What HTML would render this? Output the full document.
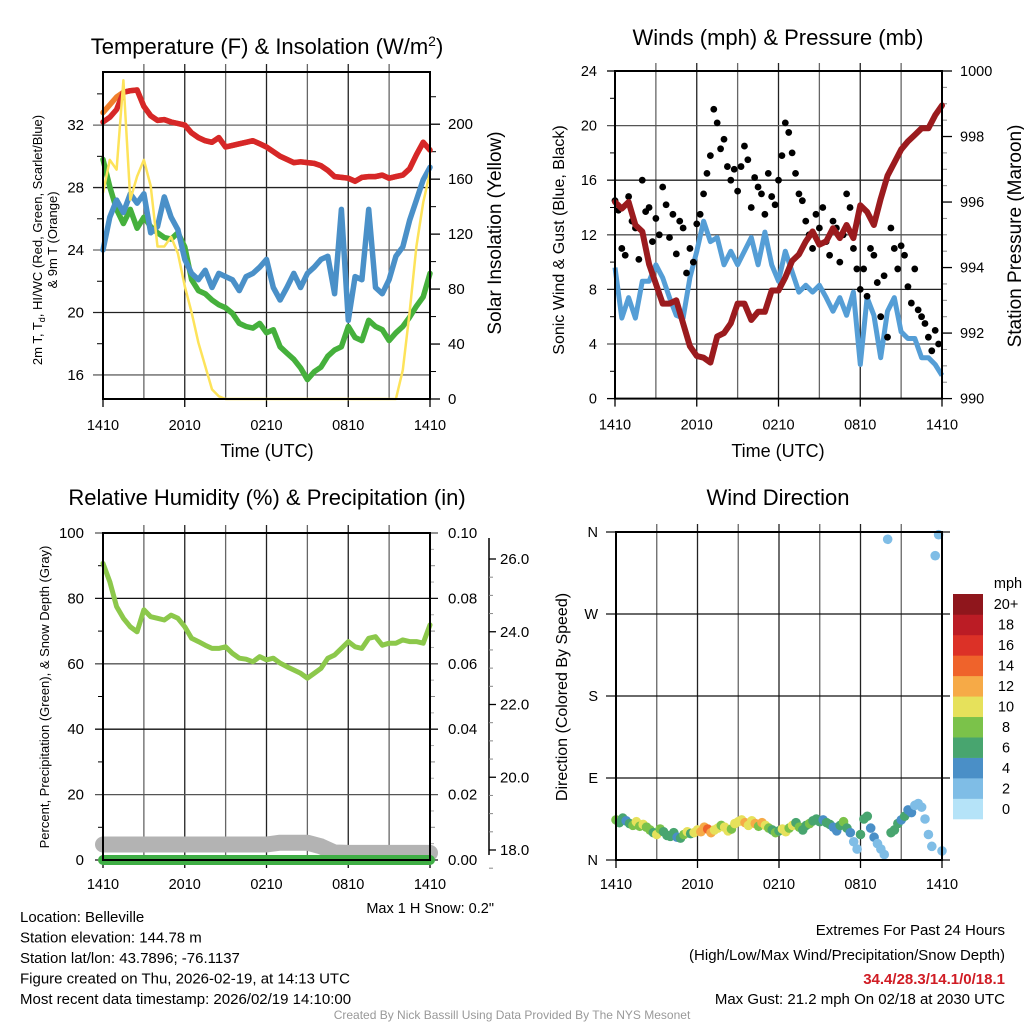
<!DOCTYPE html>
<html><head><meta charset="utf-8"><style>
body{margin:0;background:#fff;}
svg{display:block;font-family:"Liberation Sans",Arial,sans-serif;}
</style></head><body>
<svg id="c" width="1024" height="1024" viewBox="0 0 1024 1024" xmlns="http://www.w3.org/2000/svg"></svg>
<script>
// ---------- DATA (30-min steps over 24 h: index 0..48) ----------
const timeLabels = ["1410","2010","0210","0810","1410"];
const tempTicks = [16,20,24,28,32];
const insolTicks = [0,40,80,120,160,200];
const temp2m = [32.2,32.5,33.0,34.1,34.2,34.25,33.2,32.6,32.3,32.35,32.2,32.1,32.0,31.5,31.2,31.0,30.9,31.2,30.6,30.7,30.8,30.9,31.0,30.8,30.6,30.3,30.0,29.8,29.6,29.65,29.6,29.55,29.4,29.1,28.7,28.65,28.6,28.4,28.65,28.7,28.7,28.8,28.6,28.7,28.8,29.2,30.1,30.9,30.4];
const temp9m = [32.8,33.3,33.8,34.1,34.2,34.25,33.2,32.6,32.3,32.35,32.2,32.1,32.0,31.5,31.2,31.0,30.9,31.2,30.6,30.7,30.8,30.9,31.0,30.8,30.6,30.3,30.0,29.8,29.6,29.65,29.6,29.55,29.4,29.1,28.7,28.65,28.6,28.4,28.65,28.7,28.7,28.8,28.6,28.7,28.8,29.2,30.1,30.9,30.4];
const dewpoint = [29.8,28.05,26.6,25.7,26.6,25.4,26.1,25.5,25.1,24.8,24.7,25.1,24.2,22.1,21.4,21.2,20.8,20.5,20.3,19.95,19.3,19.1,19.0,19.3,18.7,18.9,17.8,17.4,17.0,16.45,15.7,16.2,16.5,17.2,17.6,17.8,19.1,18.4,18.2,19.5,19.1,18.9,18.2,18.7,19.1,19.7,20.4,21.0,22.5];
const windChill = [24.0,26.1,27.2,26.4,27.6,27.0,27.6,25.1,25.5,27.4,26.1,25.3,23.4,22.5,22.1,22.7,21.6,22.5,22.3,22.1,21.4,22.3,22.5,22.9,23.4,21.6,20.8,21.6,22.5,21.6,22.5,22.9,23.4,23.6,21.2,26.6,19.5,22.3,22.1,26.6,21.6,21.2,22.1,23.6,24.2,25.9,27.2,28.5,29.3];
const insolation = [150,174,167,232,145,162,174,155,111,111,118,106,82,63,41,24,7,2,0,0,0,0,0,0,0,0,0,0,0,0,0,0,0,0,0,0,0,0,0,0,0,0,0,0,21,63,111,143,165];

const windTicks = [0,4,8,12,16,20,24];
const presTicks = [990,992,994,996,998,1000];
const pressure = [996.0,995.8,996.0,995.3,995.1,994.1,993.5,992.9,992.9,993.0,992.3,991.6,991.3,991.25,991.1,991.9,992.0,992.3,992.9,992.9,992.4,992.65,992.65,993.3,993.3,993.7,994.2,994.4,994.8,995.1,994.7,994.8,995.2,994.9,995.3,994.9,995.9,995.7,995.3,996.1,996.8,997.2,997.6,997.85,998.05,998.25,998.25,998.65,998.95];
const windSpeed = [9.6,5.9,7.4,5.9,8.6,8.6,9.8,8.85,7.4,6.1,5.9,8.85,10.8,13.0,11.5,11.8,9.8,10.8,9.8,10.8,11.8,9.8,12.2,9.8,8.6,10.8,9.3,7.8,8.3,7.8,8.3,7.4,6.4,7.4,6.1,7.8,2.5,7.4,6.1,3.0,6.4,7.4,4.9,4.4,4.4,3.0,3.0,2.5,1.7];
// gusts: 15-min steps (index 0..95)
const windGust = [14.5,13.8,11,10.5,14.8,13,12.5,10.2,16,13.7,14,11.5,13.2,12,15.5,14.2,11.8,13.5,10.6,13,12.5,9.2,11,10,12.8,13.5,15,16.5,17.8,21.2,20.2,18.3,19,17,16,16.8,15.2,17,18.5,17.5,14,16.2,15.5,15,13.5,16.5,14.8,14.2,16,17.8,20.2,19.5,18,16.5,15,14.5,13,12,11,13.5,12.5,14,11.5,10.5,13,12.5,10,12,15,14,11,9.5,8,9.5,7.5,11,10.5,8.5,6,9,4.5,12.5,11,9.5,11.2,10.5,8.2,7,9.5,6.5,6,5.5,4.5,3.5,5,4];

const rhTicks = [0,20,40,60,80,100];
const precipTicks = ["0.00","0.02","0.04","0.06","0.08","0.10"];
const snowTicks = [18,20,22,24,26];
const relHumidity = [90.7,85.1,77.5,73.9,71.3,69.8,76.5,74.4,73.9,73.4,74.9,73.9,71.3,67.8,66.8,65.7,64.7,64.7,65.2,63.2,61.7,61.4,60.6,62.2,61.2,61.7,60.2,59.1,58.1,57.1,55.6,57.1,58.6,61.7,62.7,64.7,66.8,65.2,64.7,67.8,68.3,65.7,66.3,66.3,67.3,66.8,66.8,66.3,71.9];
const precip = [0,0,0,0,0,0,0,0,0,0,0,0,0,0,0,0,0,0,0,0,0,0,0,0,0];
// hourly snow depth (index 0..24)
const snowDepth = [18.15,18.15,18.15,18.15,18.15,18.15,18.15,18.15,18.15,18.15,18.15,18.15,18.15,18.2,18.2,18.2,18.1,17.93,17.92,17.92,17.92,17.92,17.92,17.92,17.92];

const dirLabels = ["N","E","S","W","N"];
// wind direction, 15-min steps (index 0..96)
const windDir = [44,41,46,43,40,38,42,37,39,36,33,30,28,34,31,27,26,30,25,24,28,31,29,30,33,31,36,34,30,33,35,38,36,32,34,40,42,44,41,38,43,40,37,41,38,35,33,30,32,34,31,35,38,41,36,33,38,40,43,45,42,44,41,39,36,32,38,42,35,30,20,12,28,45,48,35,25,18,12,6,352,30,33,40,44,48,55,52,60,62,58,45,28,15,334,357,10];
const dirSpeed = [9,6,7,5,7,8,10,9,10,9,8,7,10,9,6,7,6,7,5,6,9,10,7,11,11,12,13,15,12,10,11,9,10,11,9,10,11,10,12,11,10,13,9,12,11,8,7,8,7,10,11,9,10,7,8,6,7,8,6,7,6,5,7,6,4,5,6,8,7,4,3,3,6,7,6,4,4,3,3,2.5,3,6,7,6,5,6,4,5,3,3,2,3,2,2,3,2.5,2];
const cbLabels = ["0","2","4","6","8","10","12","14","16","18","20+"];
const cbColors = ["#b5e3f8","#7fbde6","#4a8fc7","#48a56f","#7bc24a","#e6e15b","#f6aa47","#ef632b","#dc3127","#bb1c25","#8f161c"];

// ---------- DRAWING ----------
const NS="http://www.w3.org/2000/svg";
const svg=document.getElementById('c');
function mk(tag,attrs,parent){const e=document.createElementNS(NS,tag);for(const k in attrs)e.setAttribute(k,attrs[k]);(parent||svg).appendChild(e);return e;}
function txt(s,x,y,size,anchor,parent,extra){const t=mk('text',Object.assign({x:x,y:y,'font-size':size,'text-anchor':anchor||'middle',fill:'#000'},extra||{}),parent);t.textContent=s;return t;}
function lin(a,b,c,d,stroke,w,p){return mk('line',{x1:a,y1:b,x2:c,y2:d,stroke:stroke,'stroke-width':w},p);}
function scale(d0,d1,r0,r1){return v=>r0+(v-d0)/(d1-d0)*(r1-r0);}
function pathFrom(arr,fx,fy,hoursPerStep){return arr.map((v,i)=>(i?'L':'M')+fx(i*hoursPerStep).toFixed(1)+','+fy(v).toFixed(1)).join('');}

function frame(g,L,R,T,B){
  const fx=scale(0,24,L,R);
  for(let h=3;h<24;h+=3){lin(fx(h),T-8,fx(h),B,h%6==0?'#222':'#666',1.3,g);}
  for(let h=0;h<=24;h+=6){lin(fx(h),B,fx(h),B+8,'#000',1.3,g);}
  return fx;
}
function timeAxis(g,fx,B){timeLabels.forEach((s,i)=>{txt(s,fx(i*6),B+31,14.5,'middle',g);});}

// ===== Panel 1 =====
(function(){
  const g=mk('g',{});
  
  
  const L=103,R=430,T=72,B=399;
  const fx=frame(g,L,R,T,B);
  const fy=scale(14.46,35.4,B,T);
  const fi=scale(0,238,B,T);
  tempTicks.forEach(v=>{lin(L-10,fy(v),R,fy(v),v%8==0?'#666':'#222',1.3,g);txt(String(v),84,fy(v)+5,15,'end',g);});
  [18,22,26,30,34].forEach(v=>lin(L-6,fy(v),L,fy(v),'#000',1,g));
  insolTicks.forEach(v=>{lin(R,fi(v),R+10,fi(v),'#000',1.3,g);txt(String(v),448,fi(v)+5,15,'start',g);});
  [20,60,100,140,180,220].forEach(v=>lin(R,fi(v),R+6,fi(v),'#000',1,g));
  const s9=mk('path',{d:pathFrom(temp9m,fx,fy,0.5),fill:'none',stroke:'#f07f2c','stroke-width':5.5,'stroke-linejoin':'round','stroke-linecap':'round'},g);
  
  const s1=mk('path',{d:pathFrom(temp2m,fx,fy,0.5),fill:'none',stroke:'#d62728','stroke-width':5.5,'stroke-linejoin':'round','stroke-linecap':'round'},g);
  
  const s2=mk('path',{d:pathFrom(dewpoint,fx,fy,0.5),fill:'none',stroke:'#45b03c','stroke-width':5.5,'stroke-linejoin':'round','stroke-linecap':'round'},g);
  
  const s3=mk('path',{d:pathFrom(windChill,fx,fy,0.5),fill:'none',stroke:'#4a90c8','stroke-width':5.5,'stroke-linejoin':'round','stroke-linecap':'round'},g);
  
  const s4=mk('path',{d:pathFrom(insolation,fx,fi,0.5),fill:'none',stroke:'#fde35a','stroke-width':2.5,'stroke-linejoin':'round'},g);
  
  mk('rect',{x:L,y:T,width:R-L,height:B-T,fill:'none',stroke:'#000','stroke-width':2},g);
  timeAxis(g,fx,B);
  const tt=mk('text',{x:267,y:54,'font-size':22,'text-anchor':'middle'},g);
  tt.innerHTML='Temperature (F) &amp; Insolation (W/m<tspan dy="-8" font-size="14">2</tspan><tspan dy="8">)</tspan>';
  
  const x1=txt('Time (UTC)',267,457,18,'middle',g);
  const yl=mk('text',{x:0,y:0,'font-size':13,'text-anchor':'middle',transform:'translate(42,240) rotate(-90)'},g);
  yl.innerHTML='2m T, T<tspan dy="3" font-size="9">d</tspan><tspan dy="-3">, HI/WC (Red, Green, Scarlet/Blue)</tspan>';
  
  const yl2=txt('& 9m T (Orange)',0,0,13,'middle',g,{transform:'translate(57,240) rotate(-90)'});
  
  const yr=txt('Solar Insolation (Yellow)',0,0,19,'middle',g,{transform:'translate(501,233) rotate(-90)'});
  
})();

// ===== Panel 2 =====
(function(){
  const g=mk('g',{});
  
  
  const L=615,R=942,T=71,B=398.6;
  const fx=frame(g,L,R,T,B);
  const fy=scale(0,24,B,T);
  const fp=scale(990,1000,B,T);
  windTicks.forEach(v=>{if(v>0&&v<24)lin(L-8,fy(v),R,fy(v),v%8==0?'#222':'#555',1.3,g);else lin(L-8,fy(v),L,fy(v),'#000',1.3,g);txt(String(v),597,fy(v)+5,14.5,'end',g);});
  [2,6,10,14,18,22].forEach(v=>lin(L-5,fy(v),L,fy(v),'#000',1,g));
  presTicks.forEach(v=>{lin(R,fp(v),R+10,fp(v),'#000',1.3,g);txt(String(v),960,fp(v)+5,14.5,'start',g);});
  for(let v=990.5;v<1000;v+=0.5){if(v%2)lin(R,fp(v),R+5,fp(v),'#888',1,g);}
  const w=mk('path',{d:pathFrom(windSpeed,fx,fy,0.5),fill:'none',stroke:'#559ed6','stroke-width':5,'stroke-linejoin':'round'},g);
  
  windGust.forEach((v,i)=>{const c=mk('circle',{cx:fx(i*0.25),cy:fy(v),r:3.4,fill:'#000'},g);
    
    });
  const p=mk('path',{d:pathFrom(pressure,fx,fp,0.5),fill:'none',stroke:'#9b1b1e','stroke-width':6,'stroke-linejoin':'round','stroke-linecap':'round'},g);
  
  mk('rect',{x:L,y:T,width:R-L,height:B-T,fill:'none',stroke:'#000','stroke-width':2},g);
  timeAxis(g,fx,B);
  const tt=txt('Winds (mph) & Pressure (mb)',778,45,22,'middle',g);
  const x1=txt('Time (UTC)',778,457,18,'middle',g);
  const yl=txt('Sonic Wind & Gust (Blue, Black)',0,0,16,'middle',g,{transform:'translate(564,240) rotate(-90)'});
  
  const yr=txt('Station Pressure (Maroon)',0,0,19,'middle',g,{transform:'translate(1021,236) rotate(-90)'});
  
})();

// ===== Panel 3 =====
(function(){
  const g=mk('g',{});
  
  
  const L=103,R=430,T=533,B=860;
  const fx=frame(g,L,R,T,B);
  const fy=scale(0,100,B,T);
  const fs=scale(18,26,850,559);
  rhTicks.forEach((v,i)=>{lin(L-8,fy(v),R+8,fy(v),v%40==20?'#555':'#111',1.3,g);txt(String(v),84,fy(v)+5,15,'end',g);txt(precipTicks[i],448,fy(v)+5,15,'start',g);});
  for(let v=10;v<100;v+=20){lin(L-5,fy(v),L,fy(v),'#000',1,g);lin(R,fy(v),R+5,fy(v),'#888',1,g);}
  for(let v=5;v<100;v+=10){lin(R,fy(v),R+4,fy(v),'#aaa',1,g);}
  lin(489,538,489,855,'#000',1.5,g);
  snowTicks.forEach(v=>{lin(489,fs(v),496,fs(v),'#000',1.3,g);txt(v.toFixed(1),500,fs(v)+5,15,'start',g);});
  for(let v=17.5;v<26.5;v+=0.5){if(v%2)lin(489,fs(v),493,fs(v),'#888',1,g);}
  const sd=mk('path',{d:pathFrom(snowDepth,fx,fs,1),fill:'none',stroke:'#b3b3b3','stroke-width':16,'stroke-linejoin':'round','stroke-linecap':'round'},g);
  
  const fpc=scale(0,0.1,B,T);
  const pr=mk('path',{d:pathFrom(precip,fx,fpc,1),fill:'none',stroke:'#3fae45','stroke-width':10,'stroke-linecap':'round'},g);
  
  const rh=mk('path',{d:pathFrom(relHumidity,fx,fy,0.5),fill:'none',stroke:'#8cc84b','stroke-width':5,'stroke-linejoin':'round','stroke-linecap':'round'},g);
  
  mk('rect',{x:L,y:T,width:R-L,height:B-T,fill:'none',stroke:'#000','stroke-width':2},g);
  timeAxis(g,fx,B-2);
  const tt=txt('Relative Humidity (%) & Precipitation (in)',267,505,22,'middle',g);
  const yl=txt('Percent, Precipitation (Green), & Snow Depth (Gray)',0,0,13,'middle',g,{transform:'translate(49,697) rotate(-90)'});
  
})();

// ===== Panel 4 =====
(function(){
  const g=mk('g',{});
  
  
  const L=616,R=942,T=532,B=860;
  const fx=frame(g,L,R,T,B);
  const fy=scale(0,360,B,T);
  dirLabels.forEach((s,i)=>{lin(L-10,fy(i*90),R+8,fy(i*90),'#111',1.3,g);txt(s,598,fy(i*90)+5,14.5,'end',g);});
  function binColor(s){let k=Math.floor(s/2);if(k>10)k=10;if(k<0)k=0;return cbColors[k];}
  windDir.forEach((d,i)=>{const c=mk('circle',{cx:fx(i*0.25),cy:fy(d),r:4.8,fill:binColor(dirSpeed[i])},g);
    
    });
  mk('rect',{x:L,y:T,width:R-L,height:B-T,fill:'none',stroke:'#000','stroke-width':2},g);
  timeAxis(g,fx,B-2);
  const tt=txt('Wind Direction',778,505,22,'middle',g);
  const yl=txt('Direction (Colored By Speed)',0,0,16,'middle',g,{transform:'translate(567,697) rotate(-90)'});
  
  const cb=mk('g',{},g);
  
  const top=594,bot=819,h=(bot-top)/cbColors.length;
  cbColors.forEach((c,i)=>{mk('rect',{x:953,y:bot-(i+1)*h,width:30,height:h+0.3,fill:c},cb);
    txt(cbLabels[i],1006,bot-(i+0.5)*h+5,14.5,'middle',cb);});
  txt('mph',1008,588,14.5,'middle',cb);
})();

// ===== Footer text =====
(function(){
  const g=mk('g',{});
  
  
  ["Location: Belleville","Station elevation: 144.78 m","Station lat/lon: 43.7896; -76.1137","Figure created on Thu, 2026-02-19, at 14:13 UTC","Most recent data timestamp: 2026/02/19 14:10:00"].forEach((s,i)=>txt(s,20,922+i*20.5,15,'start',g));
  const sn=txt('Max 1 H Snow: 0.2"',494,913,14.5,'end',g);
  const e=mk('g',{});
  
  
  txt('Extremes For Past 24 Hours',1005,935,15,'end',e);
  txt('(High/Low/Max Wind/Precipitation/Snow Depth)',1005,960,15,'end',e);
  txt('34.4/28.3/14.1/0/18.1',1005,984,15,'end',e,{fill:'#d01c24','font-weight':'bold'});
  txt('Max Gust: 21.2 mph On 02/18 at 2030 UTC',1005,1004,15,'end',e);
  const cr=txt('Created By Nick Bassill Using Data Provided By The NYS Mesonet',512,1019,12,'middle',null,{fill:'#999'});
  
})();
</script>
</body></html>
